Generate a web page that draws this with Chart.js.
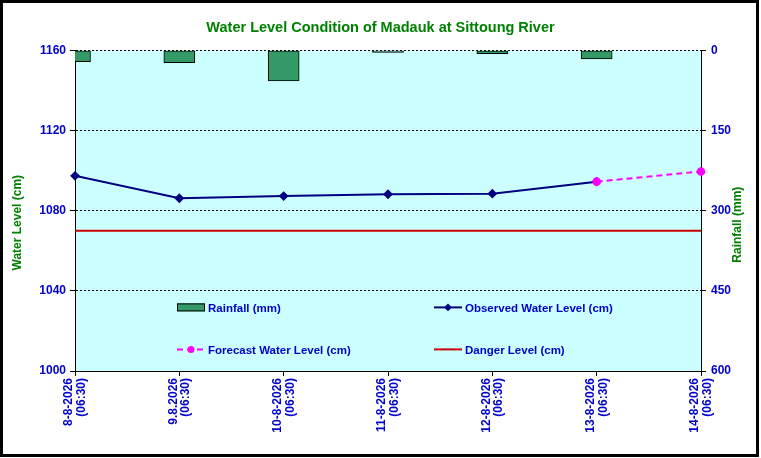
<!DOCTYPE html>
<html>
<head>
<meta charset="utf-8">
<title>Water Level Condition of Madauk at Sittoung River</title>
<script src="https://cdn.jsdelivr.net/npm/chart.js"></script>
<style>
  html, body { margin: 0; padding: 0; background: #fff; }
  #wrap { width: 761px; height: 458px; }
</style>
</head>
<body>
<div id="wrap"><canvas id="levelChart" width="761" height="458"></canvas></div>
<script>
// Values
const categories = [
    ['8-8-2026', '(06:30)'],
    ['9.8.2026', '(06:30)'],
    ['10-8-2026', '(06:30)'],
    ['11-8-2026', '(06:30)'],
    ['12-8-2026', '(06:30)'],
    ['13-8-2026', '(06:30)'],
    ['14-8-2026', '(06:30)']
];
const rainfall = [21, 23, 57, 4, 6, 16, null];
const observedLevel = [1097.4, 1086.2, 1087.3, 1088.2, 1088.5, 1094.5, null];
const forecastLevel = [null, null, null, null, null, 1094.5, 1099.6];
const dangerLevel = [1070, 1070, 1070, 1070, 1070, 1070, 1070];
const levelTicks = [1000, 1040, 1080, 1120, 1160];
const rainTicks = [0, 150, 300, 450, 600];

const FONT = '"Liberation Sans", Arial, sans-serif';
const TICK_BLUE = '#0000cc';
const TITLE_GREEN = '#008000';

Chart.defaults.font.family = FONT;

// plain numbers, no thousands separator
function plainTick(value) {
    return String(value);
}

// Light cyan plot area and white page
const plotBackground = {
    id: 'plotBackground',
    beforeDraw(chart) {
        const {ctx, chartArea} = chart;
        ctx.save();
        ctx.fillStyle = '#ffffff';
        ctx.fillRect(0, 0, chart.width, chart.height);
        ctx.fillStyle = '#ccffff';
        ctx.fillRect(chartArea.left, chartArea.top, chartArea.right - chartArea.left, chartArea.bottom - chartArea.top);
        ctx.restore();
    }
};

// Black frame round the whole picture
const outerFrame = {
    id: 'outerFrame',
    afterDraw(chart) {
        const ctx = chart.ctx;
        ctx.save();
        ctx.strokeStyle = '#000';
        ctx.lineWidth = 3;
        ctx.strokeRect(1.5, 1.5, 756, 454);
        ctx.restore();
    }
};

// Rotated axis titles
const axisTitles = {
    id: 'axisTitles',
    afterDraw(chart) {
        const {ctx, chartArea} = chart;
        const midY = (chartArea.top + chartArea.bottom) / 2;
        ctx.save();
        ctx.fillStyle = TITLE_GREEN;
        ctx.font = 'bold 12px ' + FONT;
        ctx.textAlign = 'center';
        ctx.textBaseline = 'middle';

        ctx.save();
        ctx.translate(chartArea.left - 57, midY + 12);
        ctx.rotate(-Math.PI / 2);
        ctx.fillText('Water Level (cm)', 0, 0);
        ctx.restore();

        ctx.save();
        ctx.translate(chartArea.right + 37, midY + 14);
        ctx.rotate(-Math.PI / 2);
        ctx.fillText('Rainfall (mm)', 0, 0);
        ctx.restore();

        ctx.restore();
    }
};

// Legend drawn inside the plot area, 2 x 2
const insideLegend = {
    id: 'insideLegend',
    afterDraw(chart) {
        const {ctx, chartArea} = chart;
        const slots = [
            {x: chartArea.left + 102, y: chartArea.top + 257},
            {x: chartArea.left + 359, y: chartArea.top + 257},
            {x: chartArea.left + 102, y: chartArea.top + 299},
            {x: chartArea.left + 359, y: chartArea.top + 299}
        ];
        ctx.save();
        chart.data.datasets.forEach(function(ds, i) {
            const s = slots[i];
            if (!s) return;
            if (ds.type === 'bar') {
                ctx.fillStyle = ds.backgroundColor;
                ctx.fillRect(s.x, s.y - 4, 28, 8);
                ctx.strokeStyle = ds.borderColor;
                ctx.lineWidth = 1;
                ctx.strokeRect(s.x + 0.5, s.y - 3.5, 27, 7);
            } else {
                ctx.strokeStyle = ds.borderColor;
                ctx.lineWidth = ds.borderWidth;
                ctx.setLineDash(ds.borderDash || []);
                ctx.beginPath();
                ctx.moveTo(s.x, s.y);
                ctx.lineTo(s.x + 28, s.y);
                ctx.stroke();
                ctx.setLineDash([]);
                if (ds.pointRadius > 0) {
                    ctx.fillStyle = ds.pointBackgroundColor;
                    Chart.helpers.drawPoint(ctx, {
                        pointStyle: ds.pointStyle,
                        radius: 2.5,
                        rotation: 0,
                        borderWidth: 1
                    }, s.x + 14, s.y);
                }
            }
            ctx.fillStyle = TICK_BLUE;
            ctx.font = 'bold 11.5px ' + FONT;
            ctx.textAlign = 'left';
            ctx.textBaseline = 'middle';
            ctx.fillText(ds.label, s.x + 31, s.y + 1);
        });
        ctx.restore();
    }
};

const ctx = document.getElementById('levelChart').getContext('2d');

const levelChart = new Chart(ctx, {
    type: 'line',
    data: {
        labels: categories,
        datasets: [{
            type: 'bar',
            label: 'Rainfall (mm)',
            data: rainfall,
            yAxisID: 'y1',
            backgroundColor: '#339966',
            borderColor: '#000000',
            borderWidth: 1,
            borderSkipped: false,
            barThickness: 31,
            clip: 0,
            order: 4
        }, {
            label: 'Observed Water Level (cm)',
            data: observedLevel,
            yAxisID: 'y',
            borderColor: '#000080',
            backgroundColor: '#000080',
            borderWidth: 2,
            pointStyle: 'rectRot',
            pointRadius: 3.5,
            pointBackgroundColor: '#000080',
            pointBorderColor: '#000080',
            tension: 0,
            order: 2
        }, {
            label: 'Forecast Water Level (cm)',
            data: forecastLevel,
            yAxisID: 'y',
            borderColor: '#ff00ff',
            backgroundColor: '#ff00ff',
            borderWidth: 2,
            borderDash: [6, 4],
            pointStyle: 'circle',
            pointRadius: 3.3,
            pointBackgroundColor: '#ff00ff',
            pointBorderColor: '#ff00ff',
            tension: 0,
            order: 1
        }, {
            label: 'Danger Level (cm)',
            data: dangerLevel,
            yAxisID: 'y',
            borderColor: '#cc0000',
            borderWidth: 2,
            pointRadius: 0,
            tension: 0,
            order: 3
        }]
    },
    options: {
        responsive: false,
        animation: false,
        layout: {
            padding: {left: 8, right: 8, top: 3, bottom: 8}
        },
        scales: {
            x: {
                offset: false,
                grid: {
                    offset: false,
                    drawOnChartArea: false,
                    tickLength: 5,
                    color: '#000',
                    tickColor: '#000'
                },
                border: {display: true, color: '#000', width: 1},
                ticks: {
                    color: TICK_BLUE,
                    font: {size: 12, weight: 'bold', lineHeight: 1.05},
                    maxRotation: 90,
                    minRotation: 90,
                    autoSkip: false,
                    padding: 2,
                    labelOffset: -6
                },
                afterFit: function(scale) { scale.height = 79; }
            },
            y: {
                position: 'left',
                min: 1000,
                max: 1160,
                afterBuildTicks: function(scale) {
                    scale.ticks = levelTicks.map(function(v) { return {value: v}; });
                },
                grid: {
                    color: '#000',
                    lineWidth: 1,
                    tickLength: 5,
                    tickColor: '#000',
                    tickBorderDash: []
                },
                border: {display: true, color: '#000', dash: [2, 2]},
                ticks: {
                    color: TICK_BLUE,
                    font: {size: 12, weight: 'bold'},
                    padding: 4,
                    callback: plainTick
                },
                afterFit: function(scale) { scale.width = 67; }
            },
            y1: {
                position: 'right',
                reverse: true,
                min: 0,
                max: 600,
                afterBuildTicks: function(scale) {
                    scale.ticks = rainTicks.map(function(v) { return {value: v}; });
                },
                grid: {
                    drawOnChartArea: false,
                    tickLength: 5,
                    color: '#000',
                    tickColor: '#000'
                },
                border: {display: true, color: '#000'},
                ticks: {
                    color: TICK_BLUE,
                    font: {size: 12, weight: 'bold'},
                    padding: 5,
                    callback: plainTick
                },
                afterFit: function(scale) { scale.width = 52; }
            }
        },
        plugins: {
            legend: {display: false},
            tooltip: {enabled: false},
            title: {
                display: true,
                text: 'Water Level Condition of Madauk at Sittoung River',
                color: TITLE_GREEN,
                font: {size: 14.5, weight: 'bold'},
                padding: {top: 16, bottom: 14}
            }
        }
    },
    plugins: [plotBackground, outerFrame, axisTitles, insideLegend]
});
</script>
</body>
</html>
